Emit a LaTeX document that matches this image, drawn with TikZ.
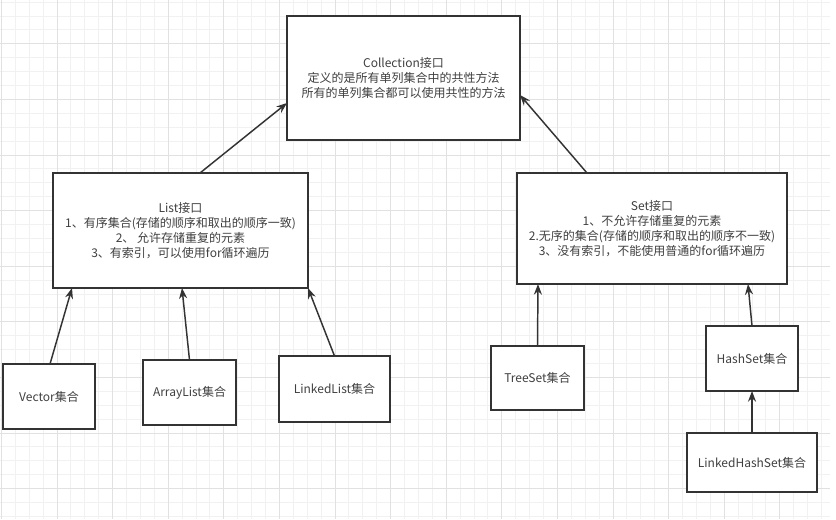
\documentclass[tikz,border=0pt]{standalone}
\usepackage{fontspec}
\setmainfont{Noto Sans CJK SC}
\usepackage{tikz}
\usetikzlibrary{arrows.meta,positioning,calc}
\definecolor{gridminor}{HTML}{F1F1F1}
\definecolor{gridmajor}{HTML}{E1E1E1}
\definecolor{boxline}{HTML}{333333}
\definecolor{txt}{HTML}{404040}

\begin{document}
\begin{tikzpicture}[
    x=0.75pt, y=-0.75pt,
    font=\fontsize{9}{11.25}\selectfont,
    box/.style={draw=boxline, line width=1.4pt, fill=white, text=txt, align=center, inner sep=0pt, outer sep=0pt},
    arr/.style={-{Stealth[length=8pt,width=6pt]}, line width=1.1pt, draw=boxline}
]
\useasboundingbox (0,0) rectangle (836,519);
% background grid
\fill[white] (0,0) rectangle (836,519);
\foreach \gx in {1.4,15.3,...,830} \draw[gridminor, line width=0.75pt] (\gx,0) -- (\gx,519);
\foreach \gy in {2.1,16,...,519} \draw[gridminor, line width=0.75pt] (0,\gy) -- (830,\gy);
\foreach \gx in {1.4,57,...,830} \draw[gridmajor, line width=0.75pt] (\gx,0) -- (\gx,519);
\foreach \gy in {43.8,99.4,...,519} \draw[gridmajor, line width=0.75pt] (0,\gy) -- (830,\gy);

% interfaces
\node[box, minimum width=174.75pt, minimum height=93pt] (coll) at (403.5,78)
    {Collection接口\\定义的是所有单列集合中的共性方法\\所有的单列集合都可以使用共性的方法};
\node[box, minimum width=191.25pt, minimum height=86.25pt] (list) at (180.5,230.5)
    {List接口\\1、有序集合(存储的顺序和取出的顺序一致)\\2、 允许存储重复的元素\\3、有索引，可以使用for循环遍历};
\node[box, minimum width=202.5pt, minimum height=83.25pt] (set) at (652,228.5)
    {Set接口\\1、不允许存储重复的元素\\2.无序的集合(存储的顺序和取出的顺序不一致)\\3、没有索引，不能使用普通的for循环遍历};

% implementations
\node[box, minimum width=69pt, minimum height=48.75pt] (vector) at (49,396.5) {Vector集合};
\node[box, minimum width=69.75pt, minimum height=48.75pt] (alist) at (189.5,392.5) {ArrayList集合};
\node[box, minimum width=83.25pt, minimum height=49.5pt] (llist) at (334.5,389) {LinkedList集合};
\node[box, minimum width=69.75pt, minimum height=48pt] (tset) at (537.5,378) {TreeSet集合};
\node[box, minimum width=69pt, minimum height=48.75pt] (hset) at (752,358.5) {HashSet集合};
\node[box, minimum width=97.5pt, minimum height=44.25pt, below=31.5pt of hset] (lhset) {LinkedHashSet集合};

\draw[arr] ($(list.north)+(19.5,0)$) -- ($(coll.west)+(0,25)$);
\draw[arr] ($(set.north)+(-65,0)$) -- ($(coll.east)+(0,17)$);
\draw[arr] ($(vector.north)+(1,0)$) -- ($(list.south)+(-108.5,0)$);
\draw[arr] (alist.north) -- ($(list.south)+(1.5,0)$);
\draw[arr] (llist.north) -- (list.south east);
\draw[arr] (tset.north) -- ($(set.south)+(-114,0)$);
\draw[arr] (hset.north) -- ($(set.south)+(96,0)$);
\draw[arr] (lhset) -- (hset);
\end{tikzpicture}
\end{document}
